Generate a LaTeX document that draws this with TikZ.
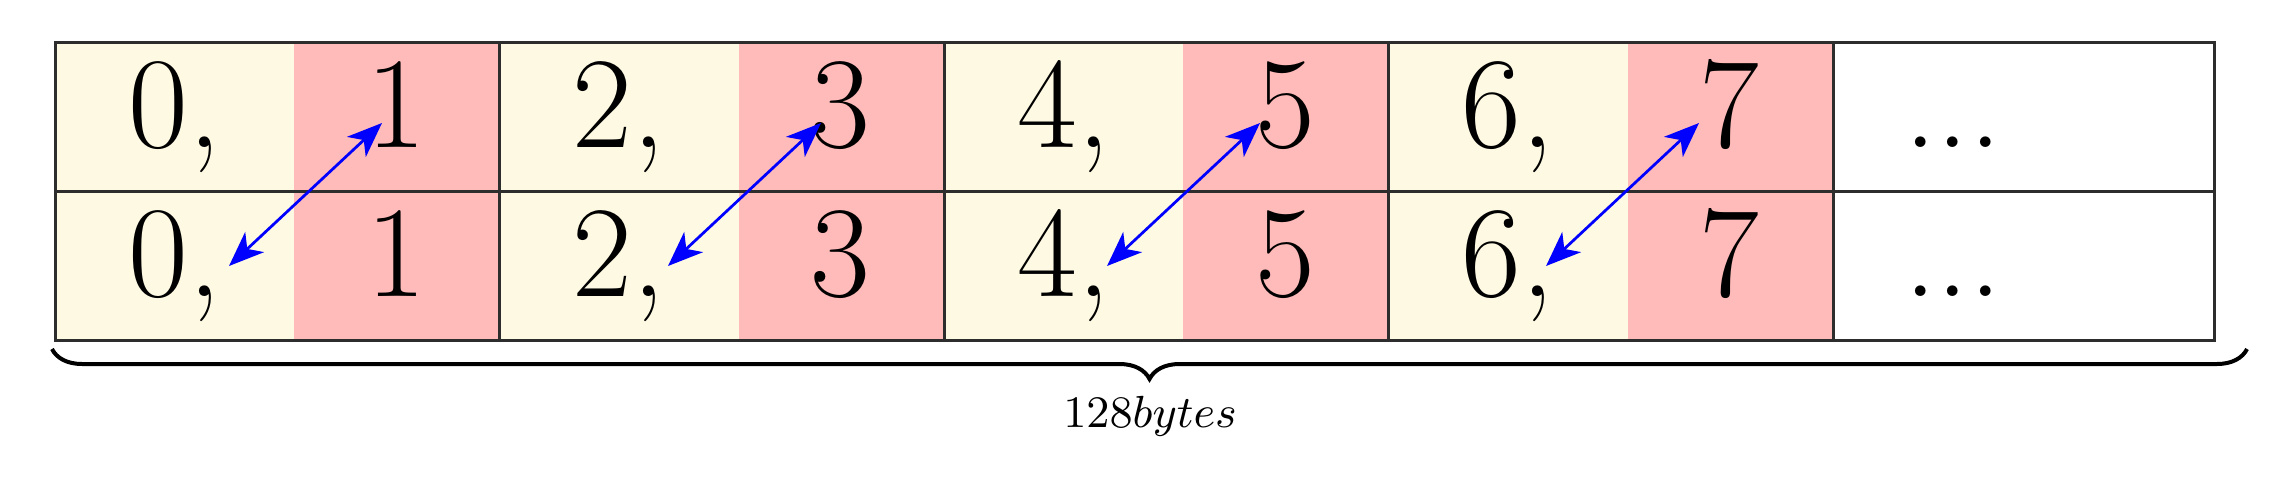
\documentclass[tikz,border=0pt]{standalone}
\usetikzlibrary{decorations.pathreplacing,arrows.meta}
\definecolor{cream}{RGB}{254,249,227}
\definecolor{pinkc}{RGB}{255,186,186}
\definecolor{gridc}{RGB}{45,45,45}
\begin{document}
\begin{tikzpicture}[x=0.2pt,y=-0.2pt,
  big/.style={font=\fontsize{26}{30}\selectfont, inner sep=0pt, anchor=base},
  gridline/.style={draw=gridc, line width=0.6pt},
  swaparrow/.style={blue, line width=0.55pt,
    {Stealth[length=7pt,width=5.5pt,inset=2pt]}-{Stealth[length=7pt,width=5.5pt,inset=2pt]}},
  bracestyle/.style={decorate, decoration={brace, mirror, amplitude=6pt}, line width=0.8pt},
  lbl/.style={font=\fontsize{9.3}{11}\selectfont, inner sep=0pt, anchor=base}]
\useasboundingbox (0,0) rectangle (2287,480);
% cell fills
\foreach \k in {0,...,3} {
  \pgfmathsetmacro\xa{55+444.5*\k}
  \fill[cream] (\xa,42) rectangle (\xa+239,340);
  \fill[pinkc] (\xa+239,42) rectangle (\xa+444.5,340);
}
% texts
\foreach \k in {0,...,3} {
  \pgfmathsetmacro\xa{55+444.5*\k}
  \pgfmathtruncatemacro\ev{2*\k}
  \pgfmathtruncatemacro\od{2*\k+1}
  \node[big] (te\k) at (\xa+119.5,147) {\ev,};
  \node[big] (to\k) at (\xa+341,147) {\od};
  \node[big] (be\k) at (\xa+119.5,296) {\ev,};
  \node[big] (bo\k) at (\xa+341,296) {\od};
}
\node[big] (tdots) at (1953,147) {...};
\node[big] (bdots) at (1953,296) {...};
% grid
\draw[gridline] (55,42) rectangle (2214,340);
\draw[gridline] (55,191) -- (2214,191);
\foreach \xv in {499.5,944,1388.5,1833} {
  \draw[gridline] (\xv,42) -- (\xv,340);
}
% arrows
\foreach \k in {0,...,3} {
  \coordinate (up\k) at (382+439*\k,123);
  \coordinate (dn\k) at (229+439*\k,266);
  \draw[swaparrow] (dn\k) -- (up\k);
}
% brace
\coordinate (bl) at (52,349);
\coordinate (br) at (2247,349);
\draw[bracestyle] (bl) -- (br);
\node[lbl] (size) at (1150,427) {$128 bytes$};
\end{tikzpicture}
\end{document}
